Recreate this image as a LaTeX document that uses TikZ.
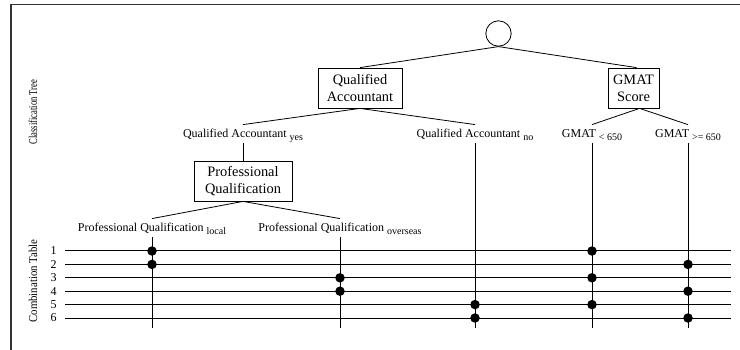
\documentclass[tikz,border=0pt]{standalone}
\usepackage{fontspec}
\setmainfont{Liberation Serif}
\usetikzlibrary{positioning}
\newcommand{\clslow}[1]{\raisebox{-3pt}{\fontsize{10}{10}\selectfont #1}}
\begin{document}
\begin{tikzpicture}[x=1pt, y=-1pt, line width=0.8pt,
  catbox/.style={draw, inner sep=2pt, minimum height=40pt, align=center, font=\fontsize{14.4}{17}\selectfont},
  clsname/.style={font=\fontsize{12}{14}\selectfont, inner xsep=2pt, inner ysep=1pt, text height=12pt, text depth=4pt, anchor=base},
  hitdot/.style={circle, fill, inner sep=0pt, minimum size=9.5pt},
  rownum/.style={font=\fontsize{12}{14}\selectfont, inner sep=1pt},
  sidetitle/.style={rotate=90, font=\fontsize{12}{14}\selectfont}]
\useasboundingbox (0,0) rectangle (740,350);
\draw[line width=1.2pt, black!80] (11,350) -- (11,4.5) -- (740,4.5);
\node[sidetitle] (treetitle) at (33,112) {\scalebox{0.715}[1]{Classification Tree}};
\node[sidetitle] (tabletitle) at (33,281) {\scalebox{0.9}[1]{Combination Table}};
%classification tree
\node[circle, draw, minimum size=25.4pt, inner sep=0pt] (root) at (498.5,33.5) {};
\node[catbox, minimum width=84pt] (qa) at (360,88) {Qualified\\Accountant};
\node[catbox, minimum width=51pt] (gm) at (633.5,88) {GMAT\\Score};
\node[clsname] (qayes) at (243,138) {Qualified Accountant \clslow{yes}};
\node[clsname] (qano) at (475,138) {Qualified Accountant \clslow{no}};
\node[clsname] (gmlo) at (592,138) {GMAT \clslow{< 650}};
\node[clsname] (gmhi) at (688,138) {GMAT \clslow{>= 650}};
\node[catbox, minimum width=98pt] (pq) at (243,181) {Professional\\Qualification};
\node[clsname] (pqloc) at (152,232) {Professional Qualification \clslow{local}};
\node[clsname] (pqover) at (340,232) {Professional Qualification \clslow{overseas}};
\draw (root.south) -- (qa.north);
\draw (root.south) -- ([xshift=3pt]gm.north);
\draw (qa.south) -- (qayes.north);
\draw (qa.south) -- (qano.north);
\draw ([xshift=6pt]gm.south) -- (gmlo.north);
\draw ([xshift=6pt]gm.south) -- (gmhi.north);
\draw (qayes.south) -- (pq.north);
\draw (pq.south) -- (pqloc.north);
\draw (pq.south) -- (pqover.north);
%combination table
\coordinate (tabbot) at (0,328);
\foreach \i [evaluate=\i as \yy using 251+(\i-1)*13.4] in {1,...,6}{
  \coordinate (row\i) at (65,\yy);
  \coordinate (rowend\i) at (731,\yy);
  \draw[line width=1pt] (row\i) -- (rowend\i);
  \node[rownum, left=7pt of row\i] (num\i) {\i};
}
\foreach \col in {pqloc, pqover, qano, gmlo, gmhi}{\draw (\col.south) -- (\col.south |- tabbot);}
\foreach \col/\r in {pqloc/1, gmlo/1, pqloc/2, gmhi/2, pqover/3, gmlo/3, pqover/4, gmhi/4, qano/5, gmlo/5, qano/6, gmhi/6}
  \node[hitdot] (dot\col\r) at (\col |- row\r) {};
\end{tikzpicture}
\end{document}
